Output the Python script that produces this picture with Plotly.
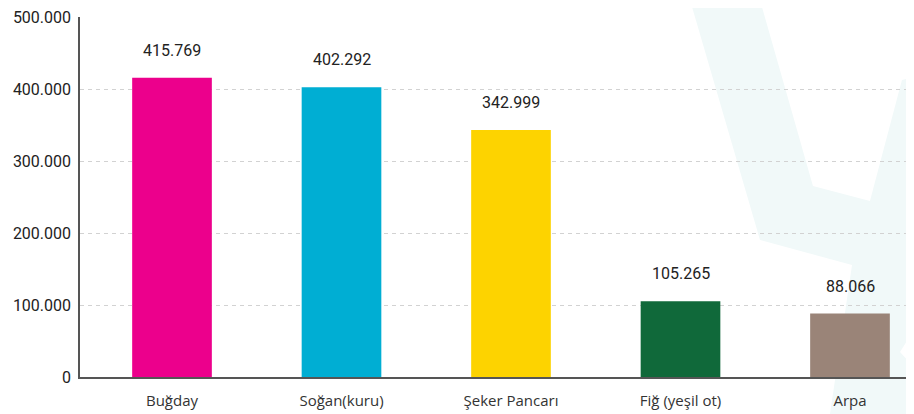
import plotly.graph_objects as go

categories = ["Buğday", "Soğan(kuru)", "Şeker Pancarı", "Fiğ (yeşil ot)", "Arpa"]
values = [415769, 402292, 342999, 105265, 88066]
value_labels = ["415.769", "402.292", "342.999", "105.265", "88.066"]
colors = ["#EC008C", "#00AED3", "#FDD300", "#10693A", "#9A8478"]
y_ticks = [0, 100000, 200000, 300000, 400000, 500000]
y_tick_labels = ["0", "100.000", "200.000", "300.000", "400.000", "500.000"]

OFF = 8  # page body margin
W, H = 914, 414
L, R, T, B = 72, 0, 9, 45
pw, ph = W - L - R, H - T - B

def px(sx, sy):
    x, y = sx - OFF, sy - OFF
    return (x - L) / pw, (H - B - y) / ph

# decorative background watermark (screen-pixel outline converted to paper coords)
wm = [(690, 0), (760, 0), (813, 186), (870, 201), (902, 80), (914, 77), (914, 330),
      (900, 352), (914, 367), (914, 414), (830, 414), (852, 265), (760, 240)]
pts = [px(x, y) for x, y in wm]
path = "M " + " L ".join(f"{a:.4f},{b:.4f}" for a, b in pts) + " Z"

fig = go.Figure()
fig.add_trace(go.Bar(
    x=categories, y=values, marker=dict(color=colors, line=dict(width=0)),
    width=0.47, hoverinfo="skip", cliponaxis=False,
))

for c, v, t in zip(categories, values, value_labels):
    fig.add_annotation(x=c, y=v, text=t, showarrow=False, yanchor="bottom",
                       yshift=16, font=dict(family="Roboto", size=16, color="#222"))

fig.update_layout(
    width=W, height=H,
    margin=dict(l=L, r=R, t=T, b=B, pad=0, autoexpand=False),
    paper_bgcolor="white", plot_bgcolor="rgba(0,0,0,0)",
    separators=",.",
    showlegend=False, bargap=0.53,
    shapes=[dict(type="path", xref="paper", yref="paper", path=path,
                 fillcolor="#f1f9f9", line=dict(width=0), layer="below")],
)
fig.update_xaxes(
    range=[-0.5428, 4.4248], showgrid=False, showline=True, linecolor="#555", linewidth=1.5,
    ticks="", tickfont=dict(family="Open Sans", size=15, color="#333"), zeroline=False,
    automargin=False, ticklabelstandoff=9,
)
fig.update_yaxes(
    range=[0, 500000], tickvals=y_ticks, ticktext=y_tick_labels,
    showgrid=True, gridcolor="#d2d2d2", griddash="4px,4px", gridwidth=1,
    showline=True, linecolor="#555", linewidth=1.5, zeroline=False,
    ticks="", tickfont=dict(family="Roboto", size=16, color="#222"), ticklabelstandoff=4,
    automargin=False, ticklabeloverflow="allow",
)
fig.write_html("out.html")
